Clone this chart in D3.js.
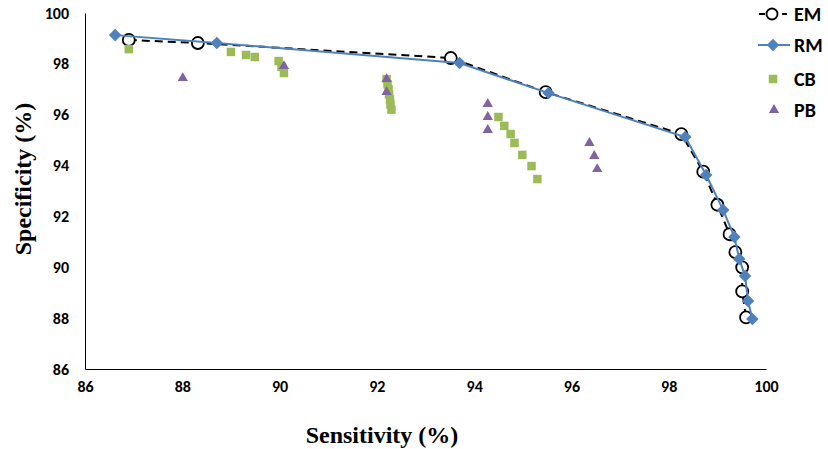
<!DOCTYPE html>
<html>
<head>
<meta charset="utf-8">
<script src="https://cdn.jsdelivr.net/npm/d3@7"></script>
<style>
  html, body { margin: 0; padding: 0; background: #fff; }
  svg { display: block; }
</style>
</head>
<body>
<svg id="chart" width="828" height="449"></svg>
<script>
// Sensitivity / specificity pairs for each method
const emSens = [86.9, 88.32, 93.52, 95.47, 98.26, 98.71, 99.0, 99.25, 99.37, 99.51, 99.51, 99.59];
const emSpec = [98.94, 98.82, 98.23, 96.89, 95.24, 93.76, 92.46, 91.3, 90.6, 90.0, 89.05, 88.03];

const rmSens = [86.62, 88.71, 93.7, 95.53, 98.34, 98.77, 99.12, 99.35, 99.45, 99.57, 99.63, 99.72];
const rmSpec = [99.13, 98.82, 98.03, 96.85, 95.12, 93.63, 92.25, 91.19, 90.33, 89.66, 88.67, 87.97];

const cbSens = [86.9, 89.0, 89.31, 89.49, 89.98, 90.04, 90.09,
                92.2, 92.22, 92.24, 92.25, 92.27, 92.28, 92.3,
                94.5, 94.62, 94.75, 94.83, 94.99, 95.18, 95.3];
const cbSpec = [98.58, 98.47, 98.35, 98.27, 98.11, 97.88, 97.64,
                97.4, 97.2, 97.0, 96.8, 96.6, 96.4, 96.2,
                95.91, 95.56, 95.24, 94.89, 94.42, 93.98, 93.47];

const pbSens = [88.01, 90.09, 92.2, 92.2, 94.28, 94.28, 94.28, 96.37, 96.47, 96.53];
const pbSpec = [97.44, 97.91, 97.4, 96.89, 96.42, 95.91, 95.4, 94.89, 94.38, 93.86];

const xTicks = [86, 88, 90, 92, 94, 96, 98, 100];
const yTicks = [86, 88, 90, 92, 94, 96, 98, 100];

const seriesNames = ["EM", "RM", "CB", "PB"];

const svg = d3.select("#chart");
const plot = { left: 85, right: 766, top: 13, bottom: 369 };

const x = d3.scaleLinear().domain([86, 100]).range([plot.left, plot.right]);
const y = d3.scaleLinear().domain([86, 100]).range([plot.bottom, plot.top]);

const tickFont = "Carlito, Lato, 'Liberation Sans', sans-serif";
const titleFont = "'Liberation Serif', 'Times New Roman', serif";

// Axes
const xAxis = d3.axisBottom(x).tickValues(xTicks).tickSize(0).tickPadding(12).tickFormat(d3.format("d"));
const yAxis = d3.axisLeft(y).tickValues(yTicks).tickSize(0).tickPadding(16).tickFormat(d3.format("d"));

const gx = svg.append("g").attr("transform", `translate(0,${plot.bottom})`).call(xAxis);
const gy = svg.append("g").attr("transform", `translate(${plot.left},0)`).call(yAxis);
[gx, gy].forEach(g => {
  g.select(".domain").attr("stroke", "#000").attr("stroke-width", 1);
  g.selectAll("text")
    .attr("fill", "#000")
    .style("font-family", tickFont)
    .style("font-weight", "bold")
    .style("font-size", "16px");
});

// Axis titles
svg.append("text")
  .attr("x", 382).attr("y", 443)
  .attr("text-anchor", "middle")
  .style("font-family", titleFont).style("font-weight", "bold").style("font-size", "24px")
  .text("Sensitivity (%)");

svg.append("text")
  .attr("transform", "translate(31,179) rotate(-90)")
  .attr("text-anchor", "middle")
  .style("font-family", titleFont).style("font-weight", "bold").style("font-size", "24px")
  .text("Specificity (%)");

const zip = (a, b) => a.map((v, i) => [v, b[i]]);
const emData = zip(emSens, emSpec);
const rmData = zip(rmSens, rmSpec);
const cbData = zip(cbSens, cbSpec);
const pbData = zip(pbSens, pbSpec);

const line = d3.line().x(d => x(d[0])).y(d => y(d[1]));

const colors = { EM: "#000000", RM: "#4F81BD", CB: "#9BBB59", PB: "#8064A2" };

const diamond = d3.symbol().type(d3.symbolDiamond2).size(100);
const square = d3.symbol().type(d3.symbolSquare).size(72);
const triangle = d3.symbol().type(d3.symbolTriangle).size(46);

// EM: dashed line with open circles
svg.append("path").datum(emData)
  .attr("d", line).attr("fill", "none")
  .attr("stroke", colors.EM).attr("stroke-width", 2).attr("stroke-dasharray", "8,5");
svg.append("g").selectAll("circle").data(emData).join("circle")
  .attr("cx", d => x(d[0])).attr("cy", d => y(d[1])).attr("r", 6)
  .attr("fill", "#fff").attr("stroke", colors.EM).attr("stroke-width", 1.8);

// RM: solid line with diamonds
svg.append("path").datum(rmData)
  .attr("d", line).attr("fill", "none")
  .attr("stroke", colors.RM).attr("stroke-width", 2);
svg.append("g").selectAll("path").data(rmData).join("path")
  .attr("d", diamond)
  .attr("transform", d => `translate(${x(d[0])},${y(d[1])})`)
  .attr("fill", colors.RM);

// CB: squares
svg.append("g").selectAll("path").data(cbData).join("path")
  .attr("d", square)
  .attr("transform", d => `translate(${x(d[0])},${y(d[1])})`)
  .attr("fill", colors.CB);

// PB: triangles
svg.append("g").selectAll("path").data(pbData).join("path")
  .attr("d", triangle)
  .attr("transform", d => `translate(${x(d[0])},${y(d[1])})`)
  .attr("fill", colors.PB);

// Legend
const legendY = [14, 45, 79, 110];
const legend = svg.append("g");
seriesNames.forEach((name, i) => {
  const g = legend.append("g").attr("transform", `translate(0,${legendY[i]})`);
  if (name === "EM") {
    g.append("line").attr("x1", 759).attr("x2", 787).attr("y1", 0).attr("y2", 0)
      .attr("stroke", colors.EM).attr("stroke-width", 2).attr("stroke-dasharray", "6,17");
    g.append("circle").attr("cx", 772).attr("cy", 0).attr("r", 5.5)
      .attr("fill", "#fff").attr("stroke", colors.EM).attr("stroke-width", 1.8);
  } else if (name === "RM") {
    g.append("line").attr("x1", 758).attr("x2", 790).attr("y1", 0).attr("y2", 0)
      .attr("stroke", colors.RM).attr("stroke-width", 2);
    g.append("path").attr("d", diamond).attr("transform", "translate(773,0)").attr("fill", colors.RM);
  } else if (name === "CB") {
    g.append("path").attr("d", square).attr("transform", "translate(773,0)").attr("fill", colors.CB);
  } else {
    g.append("path").attr("d", triangle).attr("transform", "translate(774,0)").attr("fill", colors.PB);
  }
  g.append("text").attr("x", 794).attr("y", 0).attr("dy", "0.35em")
    .style("font-family", tickFont).style("font-weight", "bold").style("font-size", "20px")
    .attr("fill", "#000")
    .text(name);
});
</script>
</body>
</html>
